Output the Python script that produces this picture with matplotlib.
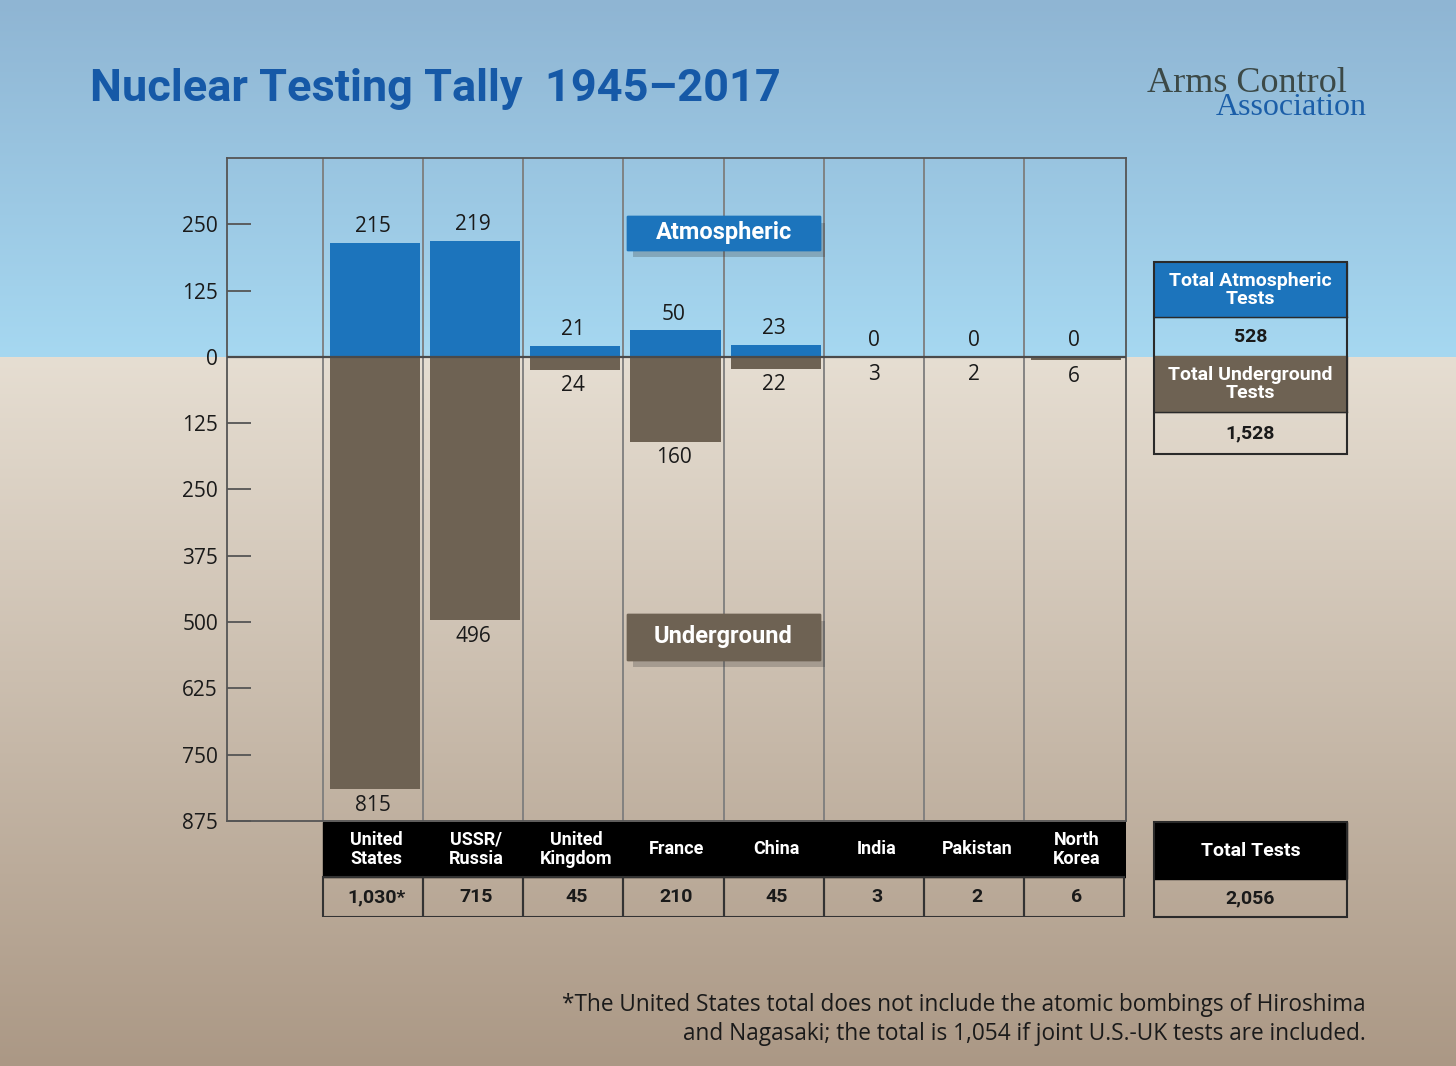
import numpy as np
import matplotlib
matplotlib.use('Agg')
import matplotlib.pyplot as plt
from matplotlib.patches import Rectangle
import matplotlib.patheffects as pe

# data
countries = ['United\nStates', 'USSR/\nRussia', 'United\nKingdom', 'France',
             'China', 'India', 'Pakistan', 'North\nKorea']
atmospheric = [215, 219, 21, 50, 23, 0, 0, 0]
underground = [815, 496, 24, 160, 22, 3, 2, 6]
totals = ['1,030*', '715', '45', '210', '45', '3', '2', '6']
total_atm = '528'
total_under = '1,528'
total_all = '2,056'
yticks = [250, 125, 0, -125, -250, -375, -500, -625, -750, -875]

W, H = 1456, 1066
BOLD = ['Roboto', 'DejaVu Sans']
SANS = ['Open Sans', 'DejaVu Sans']
SERIF = ['Liberation Serif', 'DejaVu Serif']
BLUE = '#1c74bc'
BROWN = '#6e6253'
INK = '#1a1a1a'

fig = plt.figure(figsize=(W / 100, H / 100), dpi=100)

# background: sky above the zero line, ground below
bg = fig.add_axes([0, 0, 1, 1])
horizon = 357
img = np.zeros((H, 1, 3))
sky0, sky1 = np.array([0x8f, 0xb5, 0xd3]), np.array([0xa6, 0xd8, 0xf1])
gr0, gr1 = np.array([0xe6, 0xde, 0xd2]), np.array([0xab, 0x98, 0x85])
for r in range(H):
    if r < horizon:
        t = r / horizon
        img[r, 0] = sky0 + (sky1 - sky0) * t
    else:
        t = (r - horizon) / (H - horizon)
        img[r, 0] = gr0 + (gr1 - gr0) * t
bg.imshow(img / 255., aspect='auto', extent=[0, W, H, 0])
bg.set_xlim(0, W)
bg.set_ylim(H, 0)
bg.axis('off')

# main chart
ax = fig.add_axes([227 / W, 1 - 821 / H, 899 / W, 663 / H])
ax.patch.set_alpha(0)
ax.set_xlim(-1.46, 7.52)
ax.set_ylim(-875, 375)

x = np.arange(len(countries))
ax.bar(x + 0.02, atmospheric, 0.9, color=BLUE, zorder=3)
ax.bar(x + 0.02, [-u for u in underground], 0.9, color=BROWN, zorder=3)

for b in np.arange(-0.5, 7.0, 1):
    ax.axvline(b, color='#7d7d7d', lw=1.3, zorder=1)
ax.axhline(0, color='#4a4a4a', lw=1.6, zorder=4)

for xi, a, u in zip(x, atmospheric, underground):
    ax.annotate(str(a), (xi, a), xytext=(0, 4), textcoords='offset points',
                ha='center', va='bottom', fontsize=15, family=SANS, color=INK)
    ax.annotate(str(u), (xi, -u), xytext=(0, -4), textcoords='offset points',
                ha='center', va='top', fontsize=15, family=SANS, color=INK)

ax.set_yticks(yticks)
ax.set_yticklabels([str(abs(v)) for v in yticks])
ax.set_xticks([])
ax.tick_params(axis='y', direction='in', length=17, width=1.3, color='#555555',
               pad=6.5, labelsize=15, labelcolor=INK)
for lab in ax.get_yticklabels():
    lab.set_family(SANS)
for s in ax.spines.values():
    s.set_color('#555555')
    s.set_linewidth(1.3)

# legend boxes
shadow = [pe.withSimplePatchShadow(offset=(4, -5), shadow_rgbFace='#333333', alpha=0.25),
          pe.Normal()]
ax.add_patch(Rectangle((2.54, 202), 1.92, 64, color=BLUE, zorder=5, path_effects=shadow))
ax.text(3.5, 234, 'Atmospheric', ha='center', va='center', color='white',
        fontsize=17, weight='bold', family=BOLD, zorder=6)
ax.add_patch(Rectangle((2.54, -571), 1.92, 87, color=BROWN, zorder=5, path_effects=shadow))
ax.text(3.5, -528, 'Underground', ha='center', va='center', color='white',
        fontsize=17, weight='bold', family=BOLD, zorder=6)

# country table under the chart
tax = fig.add_axes([227 / W, 1 - 917 / H, 899 / W, 95 / H])
tax.set_xlim(ax.get_xlim())
tax.set_ylim(0, 95)
tax.axis('off')
tax.add_patch(Rectangle((-0.5, 40), len(countries) + 0.02, 55, color='black'))
for xi, name, tot in zip(x, countries, totals):
    tax.add_patch(Rectangle((xi - 0.5, 0), 1, 40, fill=False, edgecolor='#333333', lw=1.5))
    tax.text(xi + 0.03, 67.5, name, ha='center', va='center', color='white', fontsize=13,
             weight='bold', family=BOLD, linespacing=1.1)
    tax.text(xi + 0.03, 20, tot, ha='center', va='center', color=INK, fontsize=14,
             weight='bold', family=BOLD)

# totals boxes on the right
bg.add_patch(Rectangle((1154, 262), 193, 55, color=BLUE))
bg.add_patch(Rectangle((1154, 356), 193, 56, color=BROWN))
bg.add_patch(Rectangle((1154, 262), 193, 192, fill=False, edgecolor='#2a2a2a', lw=1.5))
bg.plot([1154, 1347], [317, 317], color='#2a2a2a', lw=1)
bg.plot([1154, 1347], [412, 412], color='#2a2a2a', lw=1)
bg.text(1250.5, 290, 'Total Atmospheric\nTests', ha='center', va='center', color='white',
        fontsize=14, weight='bold', family=BOLD, linespacing=1.0)
bg.text(1250.5, 337, total_atm, ha='center', va='center', color=INK,
        fontsize=14, weight='bold', family=BOLD)
bg.text(1250.5, 384, 'Total Underground\nTests', ha='center', va='center', color='white',
        fontsize=14, weight='bold', family=BOLD, linespacing=1.0)
bg.text(1250.5, 433, total_under, ha='center', va='center', color=INK,
        fontsize=14, weight='bold', family=BOLD)

bg.add_patch(Rectangle((1154, 822), 193, 57, color='black'))
bg.add_patch(Rectangle((1154, 822), 193, 95, fill=False, edgecolor='#2a2a2a', lw=1.5))
bg.text(1250.5, 851, 'Total Tests', ha='center', va='center', color='white',
        fontsize=14, weight='bold', family=BOLD)
bg.text(1250.5, 898, total_all, ha='center', va='center', color=INK,
        fontsize=14, weight='bold', family=BOLD)

# title, logo and footnote
bg.text(90, 101, 'Nuclear Testing Tally  1945\u20132017', ha='left', va='baseline',
        fontsize=32.5, weight='bold', color='#1659a7', family=BOLD)
bg.text(1347, 92, 'Arms Control', ha='right', va='baseline', fontsize=26,
        color='#3c4947', family=SERIF)
bg.text(1367, 115, 'Association', ha='right', va='baseline', fontsize=23,
        color='#1b5ea8', family=SERIF)
bg.text(1366, 1011, '*The United States total does not include the atomic bombings of Hiroshima',
        ha='right', va='baseline', fontsize=16.3, color=INK, family=SANS)
bg.text(1366, 1040, 'and Nagasaki; the total is 1,054 if joint U.S.-UK tests are included.',
        ha='right', va='baseline', fontsize=16.3, color=INK, family=SANS)

fig.savefig('out.png', dpi=100)
